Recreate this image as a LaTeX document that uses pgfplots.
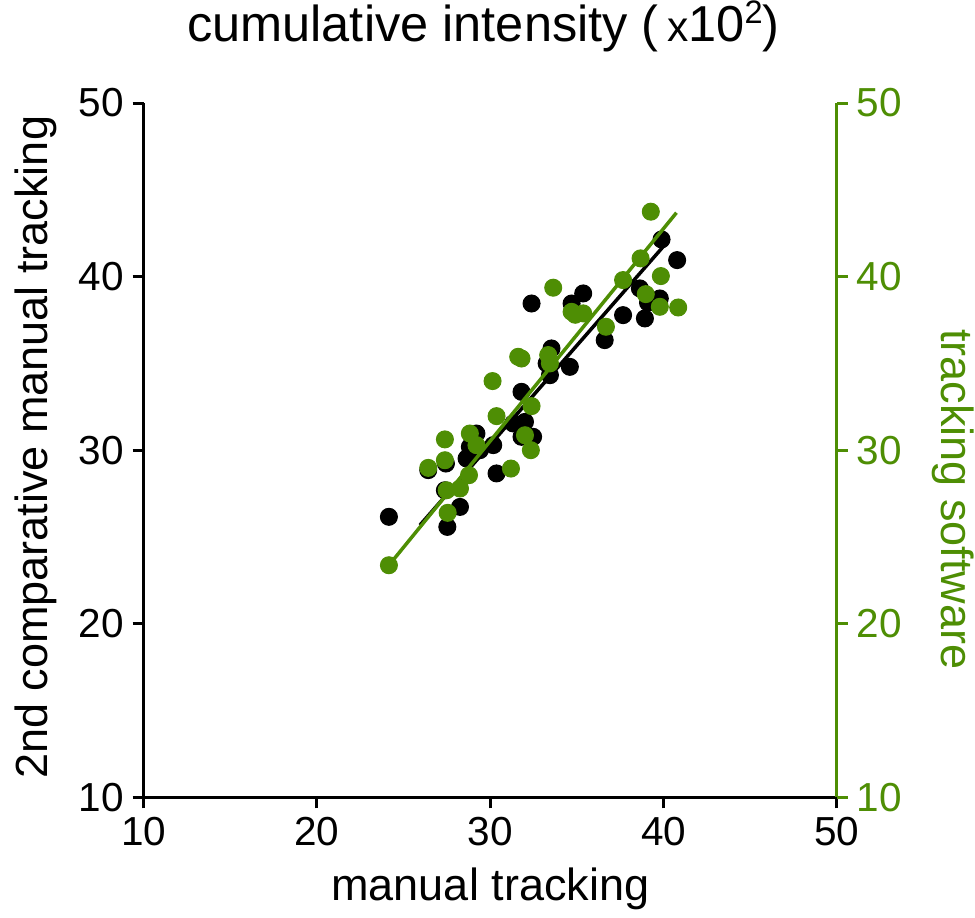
\documentclass[border=0pt]{standalone}
\usepackage{fontspec}
\setmainfont{Liberation Sans}
\usepackage{pgfplots}
\pgfplotsset{compat=1.18}
\usetikzlibrary{calc}
\definecolor{sw}{RGB}{78,142,4}

\begin{document}
\begin{tikzpicture}
% manual tracking vs 2nd manual tracking (black)
\begin{axis}[
  name=ax,
  scale only axis, width=277.2pt, height=277.6pt,
  xmin=10, xmax=50, ymin=10, ymax=50,
  xtick={10,20,30,40,50}, ytick={10,20,30,40,50},
  axis x line*=bottom, axis y line*=left,
  axis line style={line width=1.2pt, -},
  tick style={line width=1.2pt, black},
  tick align=outside, major tick length=4.4pt,
  ticklabel style={font=\fontsize{16.2}{18}\selectfont},
  /pgf/number format/assume math mode=true,
  xlabel={manual tracking},
  ylabel={2nd comparative manual tracking},
  every axis x label/.style={at={(axis description cs:0.5,-0.148)}, anchor=base, font=\fontsize{18}{20}\selectfont},
  every axis y label/.style={at={(axis description cs:-0.138,0.504)}, anchor=base, rotate=90, font=\fontsize{18}{20}\selectfont},
  title={cumulative intensity (\,{\fontsize{17}{17}\selectfont x}10\raisebox{0.36em}{\fontsize{13}{13}\selectfont 2})},
  every axis title/.style={at={(axis description cs:0.490,1.088)}, anchor=base, inner sep=0pt, font=\fontsize{20.2}{22}\selectfont},
]
\addplot[black, only marks, mark=*, mark size=3.4pt] coordinates {
  (24.15,26.16) (27.52,25.58) (28.25,26.73) (27.38,27.69) (26.42,28.85)
  (27.44,29.23) (28.63,29.52) (29.2,30.96) (28.82,30.19) (29.4,30.0)
  (30.17,30.29) (30.36,28.66) (31.32,31.54) (32.0,31.63) (31.8,30.77)
  (32.47,30.77) (31.8,33.36) (32.38,38.45) (33.53,35.86) (33.25,35.0)
  (33.44,34.32) (34.59,34.8) (34.69,38.45) (35.36,39.03) (36.6,36.34)
  (37.66,37.78) (38.63,39.32) (38.92,37.59) (39.78,38.74) (39.1,38.5)
  (39.88,42.14) (40.78,40.95)
};
\addplot[black, line width=1.4pt, no marks] coordinates {(25.94,25.68) (39.97,41.72)};
\end{axis}

% tracking software (green, right axis)
\begin{axis}[
  at={(ax.south west)}, anchor=south west,
  scale only axis, width=277.2pt, height=277.6pt,
  xmin=10, xmax=50, ymin=10, ymax=50,
  ytick={10,20,30,40,50},
  axis x line=none, axis y line*=right,
  axis line style={line width=1.2pt, -, sw},
  tick style={line width=1.2pt, sw},
  tick align=outside, major tick length=4.4pt,
  yticklabel style={font=\fontsize{16.2}{18}\selectfont, text=sw},
  /pgf/number format/assume math mode=true,
  ylabel={tracking software},
  every axis y label/.style={at={(axis description cs:1.151,0.429)}, anchor=base, rotate=-90, text=sw, font=\fontsize{18}{20}\selectfont},
]
\addplot[sw, only marks, mark=*, mark size=3.4pt] coordinates {
  (24.15,23.37) (26.42,28.98) (27.38,29.42) (27.38,30.62) (27.48,27.69)
  (27.54,26.39) (28.25,27.79) (28.77,28.56) (28.82,30.96) (29.2,30.29)
  (30.36,31.96) (30.13,33.98) (31.19,28.94) (31.8,35.28) (32.0,30.86)
  (32.38,32.54) (32.34,30.0) (31.61,35.38) (33.34,35.48) (33.44,35.0)
  (33.63,39.36) (34.69,37.97) (35.36,37.88) (34.9,37.8) (36.67,37.11)
  (37.66,39.8) (38.67,41.05) (38.97,38.99) (39.26,43.74) (39.84,40.03)
  (39.78,38.26) (40.84,38.22)
};
\addplot[sw, line width=1.4pt, no marks] coordinates {(24.15,23.37) (40.74,43.68)};
\end{axis}

\pgfresetboundingbox
\path ($(ax.south west)+(-57.44pt,-48pt)$) rectangle ($(ax.north east)+(55.2pt,41.2pt)$);
\end{tikzpicture}
\end{document}
